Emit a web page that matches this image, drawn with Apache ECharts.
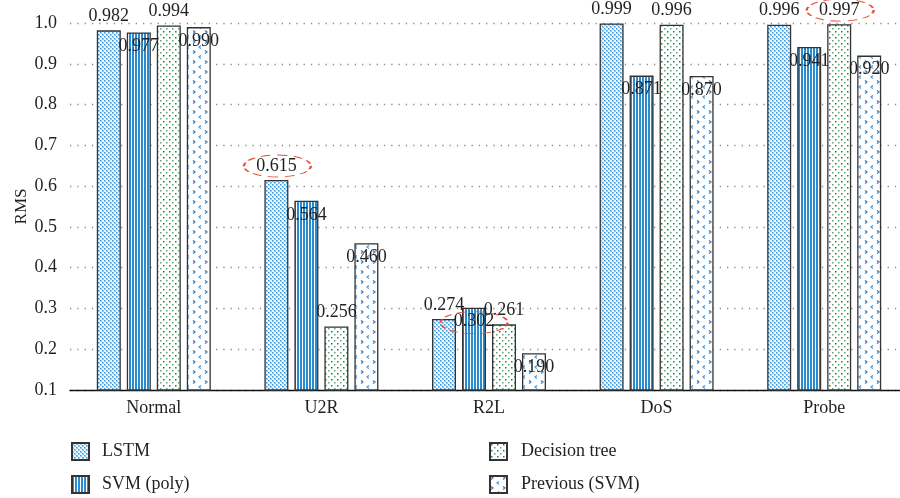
<!DOCTYPE html>
<html>
<head>
<meta charset="utf-8">
<script src="https://cdn.jsdelivr.net/npm/echarts@6/dist/echarts.min.js"></script>
<style>html,body{margin:0;padding:0;background:#fff}#c{width:900px;height:498px}</style>
</head>
<body>
<div id="c"></div>
<script>
var categories = ['Normal', 'U2R', 'R2L', 'DoS', 'Probe'];
var lstm = [0.982, 0.615, 0.274, 0.999, 0.996];
var svmPoly = [0.977, 0.564, 0.302, 0.871, 0.941];
var decisionTree = [0.994, 0.256, 0.261, 0.996, 0.997];
var previousSvm = [0.990, 0.460, 0.190, 0.870, 0.920];
var yTicks = [0.1, 1.0, 0.1]; // min, max, interval
var highlights = [ // [seriesIndex, categoryIndex]
  [0, 1], [1, 2], [2, 4]
];

function tile(w, h, draw) {
  var c = document.createElement('canvas');
  c.width = w; c.height = h;
  var ctx = c.getContext('2d');
  draw(ctx);
  return c;
}
var patLSTM = tile(4, 4, function (ctx) {
  ctx.fillStyle = '#eef7fd'; ctx.fillRect(0, 0, 4, 4);
  ctx.fillStyle = '#8fcbee'; ctx.fillRect(0, 0, 2, 2); ctx.fillRect(2, 2, 2, 2);
  ctx.fillStyle = '#3d95d2'; ctx.fillRect(0, 0, 1, 1); ctx.fillRect(2, 2, 1, 1);
});
var patSVM = tile(3, 1, function (ctx) {
  ctx.fillStyle = '#ffffff'; ctx.fillRect(0, 0, 3, 1);
  ctx.fillStyle = '#2a8bcd'; ctx.fillRect(0, 0, 2, 1);
});
var patDT = tile(6, 6, function (ctx) {
  ctx.fillStyle = '#ffffff'; ctx.fillRect(0, 0, 6, 6);
  ctx.fillStyle = '#2a7a4e'; ctx.fillRect(1, 1, 1.5, 1.5);
  ctx.fillStyle = '#5aa57a'; ctx.fillRect(4, 4, 1.5, 1.5);
});
var patPrev = tile(12, 10, function (ctx) {
  ctx.fillStyle = '#ffffff'; ctx.fillRect(0, 0, 12, 10);
  ctx.strokeStyle = '#2f78bb'; ctx.lineWidth = 1.2;
  ctx.beginPath(); ctx.moveTo(1, 0.5); ctx.lineTo(3, 2); ctx.lineTo(1, 3.5); ctx.stroke();
  ctx.strokeStyle = '#4f93cf';
  ctx.beginPath(); ctx.moveTo(9, 5.5); ctx.lineTo(7, 7); ctx.lineTo(9, 8.5); ctx.stroke();
});

var FONT = "'Liberation Serif', 'Times New Roman', serif";
var TXT = '#231f20';

function makeSeries(name, values, pattern, labelPos, idx) {
  var marks = highlights.filter(function (h) { return h[0] === idx; }).map(function (h) {
    var off = labelPos === 'top' ? [1, -14] : [0, 15];
    return { coord: [h[1], values[h[1]]], symbolOffset: off };
  });
  return {
    name: name,
    type: 'bar',
    data: values,
    barWidth: 24,
    barGap: '25%',
    itemStyle: { color: { image: pattern, repeat: 'repeat' }, borderColor: '#333', borderWidth: 1.3 },
    label: {
      show: true, position: labelPos, distance: 5,
      fontFamily: FONT, fontSize: 18, color: TXT,
      formatter: function (p) { return p.value.toFixed(3); }
    },
    emphasis: { disabled: true },
    markPoint: {
      symbol: 'path://M0,1A1,1 0 1,1 2,1A1,1 0 1,1 0,1Z',
      symbolSize: [67, 22],
      silent: true,
      label: { show: false },
      itemStyle: { color: 'rgba(0,0,0,0)', borderColor: '#e8503a', borderWidth: 1.4, borderType: [6, 4] },
      data: marks
    }
  };
}

var chart = echarts.init(document.getElementById('c'), null, { renderer: 'canvas' });
chart.setOption({
  animation: false,
  backgroundColor: '#ffffff',
  textStyle: { fontFamily: FONT },
  grid: { left: 70, top: 23, width: 838, height: 367, outerBoundsMode: 'none', containLabel: false },
  legend: [
    {
      data: ['LSTM', 'SVM (poly)'], orient: 'vertical', left: 71, top: 442,
      itemWidth: 17, itemHeight: 17, itemGap: 14, padding: 0,
      icon: 'rect',
      textStyle: { fontFamily: FONT, fontSize: 18, color: TXT, padding: [0, 0, 0, 8] }
    },
    {
      data: ['Decision tree', 'Previous (SVM)'], orient: 'vertical', left: 489, top: 442,
      itemWidth: 17, itemHeight: 17, itemGap: 14, padding: 0,
      icon: 'rect',
      textStyle: { fontFamily: FONT, fontSize: 18, color: TXT, padding: [0, 0, 0, 9] }
    }
  ],
  xAxis: {
    type: 'category', data: categories,
    axisLine: { lineStyle: { color: '#111', width: 1.3 } },
    axisTick: { show: false },
    axisLabel: { fontFamily: FONT, fontSize: 18, color: TXT, margin: 9 },
    splitLine: { show: false }
  },
  yAxis: {
    type: 'value', min: yTicks[0], max: yTicks[1], interval: yTicks[2],
    name: 'RMS', nameLocation: 'middle', nameGap: 40, nameMoveOverlap: false,
    nameTextStyle: { fontFamily: FONT, fontSize: 17, color: TXT },
    axisLine: { show: false }, axisTick: { show: false },
    axisLabel: { fontFamily: FONT, fontSize: 18, color: TXT, margin: 13,
      formatter: function (v) { return v.toFixed(1); } },
    splitLine: { show: true, lineStyle: { color: '#8a8a8a', width: 1.3, type: [1.3, 6] } }
  },
  series: [
    makeSeries('LSTM', lstm, patLSTM, 'top', 0),
    makeSeries('SVM (poly)', svmPoly, patSVM, 'insideTop', 1),
    makeSeries('Decision tree', decisionTree, patDT, 'top', 2),
    makeSeries('Previous (SVM)', previousSvm, patPrev, 'insideTop', 3)
  ]
});
</script>
</body>
</html>
